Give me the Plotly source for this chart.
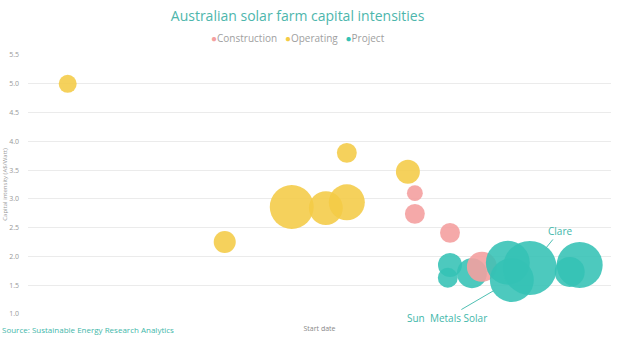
import plotly.graph_objects as go
import math

# ---- data ----
op_dates = ["2011-07-19", "2013-09-13", "2014-08-15", "2015-02-02", "2015-05-18", "2015-05-18", "2016-03-19"]
op_intensity = [5.00, 2.25, 2.86, 2.84, 2.94, 3.80, 3.47]
op_capacity = [36, 54, 215, 128, 144, 44, 64]

con_dates = ["2016-04-23", "2016-04-23", "2016-10-16", "2017-03-25"]
con_intensity = [3.10, 2.74, 2.41, 1.82]
con_capacity = [28, 44, 44, 100]

proj_a_dates = ["2016-10-16", "2016-10-05", "2017-02-03"]
proj_a_intensity = [1.85, 1.63, 1.71]
proj_a_capacity = [64, 44, 100]

proj_b_dates = ["2017-08-02", "2017-08-22", "2017-11-20", "2018-07-28", "2018-06-08"]
proj_b_intensity = [1.89, 1.59, 1.80, 1.85, 1.73]
proj_b_capacity = [215, 215, 324, 235, 100]
proj_b_names = ["", "Sun  Metals Solar", "Clare", "", ""]

y_ticks = [1.0, 1.5, 2.0, 2.5, 3.0, 3.5, 4.0, 4.5, 5.0, 5.5]
legend_names = ["Construction", "Operating", "Project"]

YELLOW = "#F4CB45"
PINK = "#F4A0A0"
TEAL = "#34C2B5"
FONT = "Open Sans"
legend_colors = [PINK, YELLOW, TEAL]


def diam(cap):
    return [3.0 * math.sqrt(c) for c in cap]


fig = go.Figure()
fig.add_trace(go.Scatter(x=proj_a_dates, y=proj_a_intensity, mode="markers", name="Project",
                         marker=dict(size=diam(proj_a_capacity), color=TEAL, opacity=0.88, line=dict(width=0))))
fig.add_trace(go.Scatter(x=op_dates, y=op_intensity, mode="markers", name="Operating",
                         marker=dict(size=diam(op_capacity), color=YELLOW, opacity=0.88, line=dict(width=0))))
fig.add_trace(go.Scatter(x=con_dates, y=con_intensity, mode="markers", name="Construction",
                         marker=dict(size=diam(con_capacity), color=PINK, opacity=0.9, line=dict(width=0))))
fig.add_trace(go.Scatter(x=proj_b_dates, y=proj_b_intensity, mode="markers", name="Project",
                         marker=dict(size=diam(proj_b_capacity), color=TEAL, opacity=0.88, line=dict(width=0))))

# annotations for named projects
offsets = {"Clare": (30, -37), "Sun  Metals Solar": (-65, 38)}
for d, v, c, n in zip(proj_b_dates, proj_b_intensity, proj_b_capacity, proj_b_names):
    if n:
        ax, ay = offsets[n]
        fig.add_annotation(x=d, y=v, xref="x", yref="y", text=n, showarrow=True, arrowhead=0,
                           arrowwidth=1, arrowcolor="#4FBFB3", ax=ax, ay=ay,
                           standoff=1.5 * math.sqrt(c) - 2,
                           font=dict(family=FONT, size=10, color="#3FB7AA"))

# compact legend line (dot immediately before label)
legend_text = "   ".join(
    f"<span style='color:{col}'>●</span>{name}" for name, col in zip(legend_names, legend_colors)
)
fig.add_annotation(text=legend_text, xref="paper", yref="paper", x=0.463, y=1.0, yshift=17,
                   xanchor="center", yanchor="middle", showarrow=False,
                   font=dict(family=FONT, size=10, color="#A0A0A0"))

fig.add_annotation(text="Source: Sustainable Energy Research Analytics", xref="paper", yref="paper",
                   x=0, y=0, xanchor="left", yanchor="top", showarrow=False, xshift=-28, yshift=-8,
                   font=dict(family=FONT, size=8, color="#3FB7AA"))

fig.update_layout(
    width=640, height=351,
    margin=dict(l=28, r=29, t=55, b=37),
    paper_bgcolor="white", plot_bgcolor="white",
    font=dict(family=FONT, color="#888888"),
    title=dict(text="Australian solar farm capital intensities", x=0.465, xanchor="center",
               y=0.955, yanchor="middle",
               font=dict(family=FONT, size=14, color="#4DB6AC")),
    showlegend=False,
)
fig.update_xaxes(type="date", range=["2011-01-01", "2019-01-01"], showticklabels=False, showgrid=False,
                 zeroline=False, showline=False, automargin=False,
                 title=dict(text="Start date", font=dict(family=FONT, size=7, color="#888888"), standoff=12))
fig.update_yaxes(range=[1.0, 5.5], tickvals=y_ticks, tickformat=".1f", showgrid=True, gridcolor="#EBEBEB",
                 gridwidth=1, zeroline=False, showline=False, ticks="", ticklabelstandoff=8,
                 automargin=False,
                 tickfont=dict(family=FONT, size=7, color="#999999"),
                 title=dict(text="Capital intensity (A$/Watt)", font=dict(family=FONT, size=6, color="#999999"),
                            standoff=0))

fig.write_html("out.html")
